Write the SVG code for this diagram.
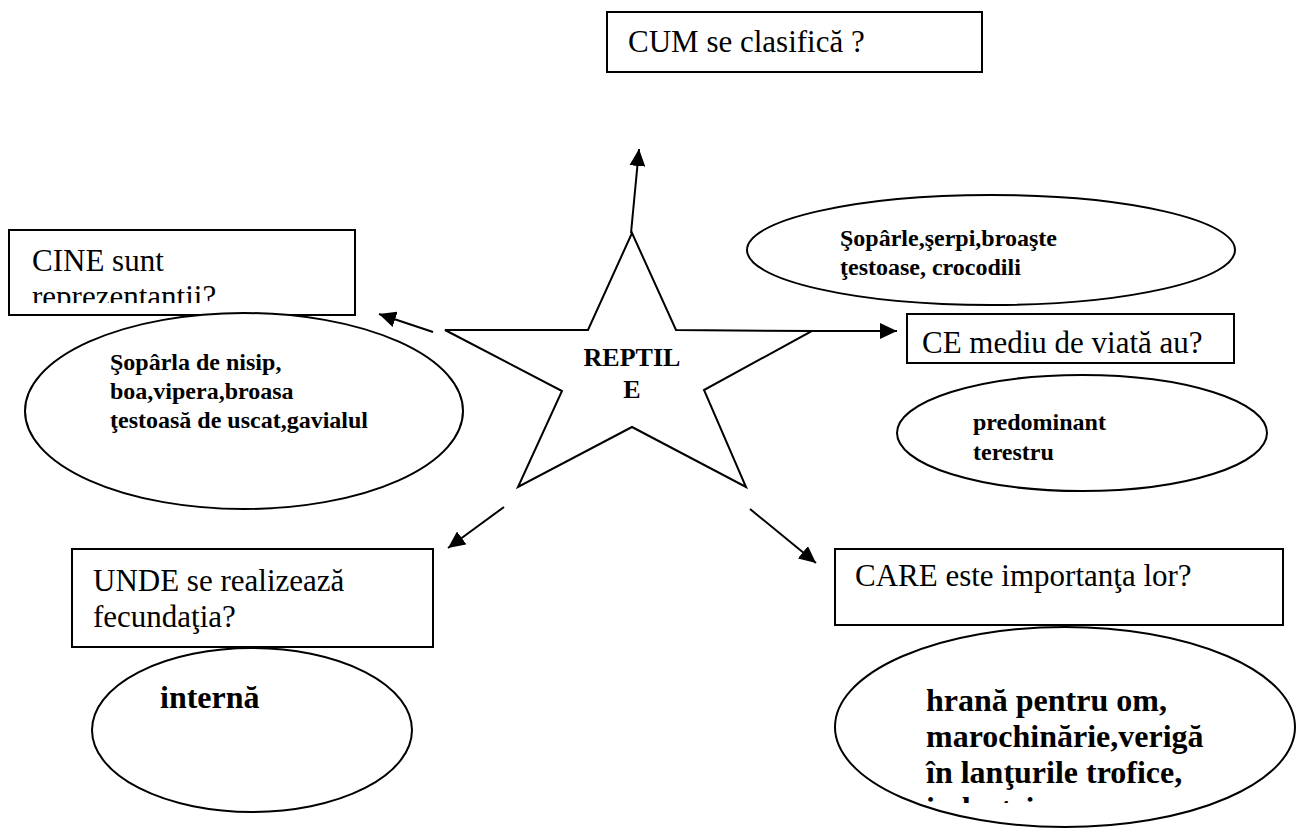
<svg xmlns="http://www.w3.org/2000/svg" width="1296" height="829" viewBox="0 0 1296 829">
  <style>
    .box { fill: #ffffff; stroke: #000000; stroke-width: 2; }
    .oval { fill: #ffffff; stroke: #000000; stroke-width: 2; }
    .star { fill: #ffffff; stroke: #000000; stroke-width: 2; stroke-linejoin: miter; }
    .q { font-family: "Liberation Serif", "Times New Roman", serif; font-size: 31px; fill: #000000; }
    .a { font-family: "Liberation Serif", "Times New Roman", serif; font-weight: bold; font-size: 24px; fill: #000000; }
    .a32 { font-family: "Liberation Serif", "Times New Roman", serif; font-weight: bold; font-size: 32px; fill: #000000; }
    .c { font-family: "Liberation Serif", "Times New Roman", serif; font-weight: bold; font-size: 26px; fill: #000000; }
    .link { stroke: #000000; stroke-width: 2; fill: none; marker-end: url(#head); }
  </style>
  <defs>
    <marker id="head" markerUnits="userSpaceOnUse" markerWidth="18" markerHeight="16" refX="17" refY="8" orient="auto">
      <path d="M0,0 L17,8 L0,16 Z" fill="#000000"/>
    </marker>
    <clipPath id="clipCine">
      <rect x="10" y="231" width="344" height="72"/>
    </clipPath>
    <clipPath id="clipCare">
      <rect x="836" y="626" width="458" height="177"/>
    </clipPath>
  </defs>

  <!-- connectors -->
  <g id="connectors">
    <line class="link" x1="631" y1="233" x2="639" y2="149"/>
    <line class="link" x1="433" y1="332" x2="379" y2="314"/>
    <line class="link" x1="812" y1="331" x2="897" y2="331"/>
    <line class="link" x1="504" y1="507" x2="448" y2="548"/>
    <line class="link" x1="750" y1="509" x2="816" y2="563"/>
  </g>

  <!-- central star -->
  <g id="reptile">
    <polygon class="star" points="632,233 676,330 812,331 704,390 746,487 632,427 518,487 562,391 445,330 588,330"/>
    <text class="c" x="632" y="366" text-anchor="middle">REPTIL</text>
    <text class="c" x="632" y="398" text-anchor="middle">E</text>
  </g>

  <!-- CUM -->
  <g id="cum">
    <rect class="box" x="607" y="12" width="375" height="60"/>
    <text class="q" x="628" y="52">CUM se clasifică ?</text>
  </g>

  <!-- CINE -->
  <g id="cine">
    <rect class="box" x="9" y="230" width="346" height="85"/>
    <g clip-path="url(#clipCine)">
      <text class="q" x="32" y="271">CINE sunt</text>
      <text class="q" x="32" y="307">reprezentantii?</text>
    </g>
  </g>

  <!-- examples of reptiles -->
  <g id="cine-exemple">
    <ellipse class="oval" cx="244" cy="411" rx="219" ry="98"/>
    <text class="a" x="110" y="370">Şopârla de nisip,</text>
    <text class="a" x="110" y="399">boa,vipera,broasa</text>
    <text class="a" x="110" y="428">ţestoasă de uscat,gavialul</text>
  </g>

  <!-- groups of reptiles -->
  <g id="cum-raspuns">
    <ellipse class="oval" cx="991" cy="250" rx="244" ry="55"/>
    <text class="a" x="840" y="246">Şopârle,şerpi,broaşte</text>
    <text class="a" x="840" y="275">ţestoase, crocodili</text>
  </g>

  <!-- CE -->
  <g id="ce">
    <rect class="box" x="907" y="314" width="327" height="49"/>
    <text class="q" x="922" y="353">CE mediu de viată au?</text>
  </g>

  <g id="ce-raspuns">
    <ellipse class="oval" cx="1082" cy="433" rx="185" ry="58"/>
    <text class="a" x="973" y="430">predominant</text>
    <text class="a" x="973" y="460">terestru</text>
  </g>

  <!-- UNDE -->
  <g id="unde">
    <rect class="box" x="72" y="549" width="361" height="98"/>
    <text class="q" x="93" y="591">UNDE se realizează</text>
    <text class="q" x="93" y="627">fecundaţia?</text>
  </g>

  <g id="unde-raspuns">
    <ellipse class="oval" cx="252" cy="730" rx="160" ry="82"/>
    <text class="a32" x="160" y="708">internă</text>
  </g>

  <!-- CARE -->
  <g id="care">
    <rect class="box" x="835" y="549" width="448" height="76"/>
    <text class="q" x="855" y="586">CARE este importanţa lor?</text>
  </g>

  <g id="care-raspuns">
    <ellipse class="oval" cx="1065" cy="727" rx="230" ry="100"/>
    <g clip-path="url(#clipCare)">
      <text class="a32" x="926" y="711">hrană pentru om,</text>
      <text class="a32" x="926" y="747">marochinărie,verigă</text>
      <text class="a32" x="926" y="783">în lanţurile trofice,</text>
      <text class="a32" x="926" y="819">industrie</text>
    </g>
  </g>
</svg>
